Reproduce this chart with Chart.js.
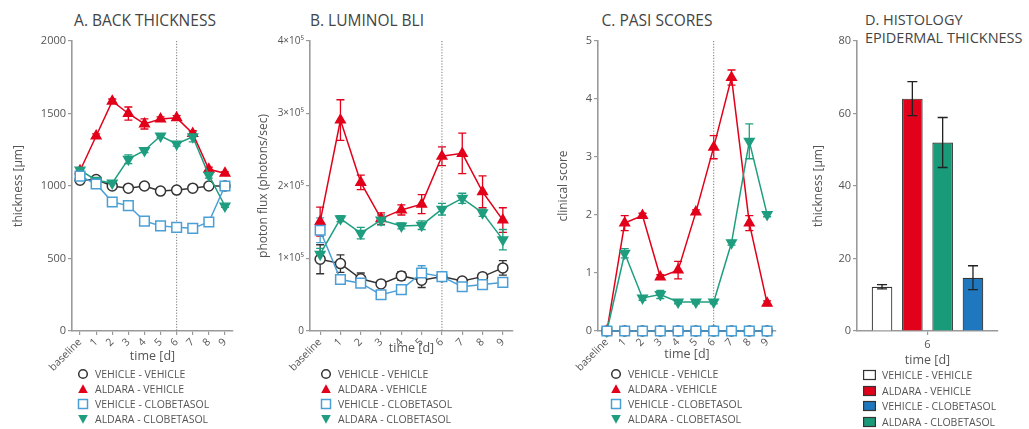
<!DOCTYPE html>
<html>
<head>
<meta charset="utf-8">
<script src="https://cdn.jsdelivr.net/npm/chart.js"></script>
<style>
  body { margin: 0; background: #fff; font-family: 'Open Sans', sans-serif; }
  #page { position: relative; width: 1029px; height: 429px; overflow: hidden; }
  canvas { position: absolute; top: 0; }
  .title { position: absolute; width: 240px; font-size: 15.5px; line-height: 18px; color: #444; text-align: center; white-space: nowrap; }
  .legend { position: absolute; font-size: 10.5px; color: #555; }
  .legend div { height: 15.2px; display: flex; align-items: center; white-space: nowrap; }
  .legend svg { margin-right: 6px; flex: none; }
</style>
</head>
<body>
<div id="page">
  <div class="title" style="left:25px; top:11px;">A. BACK THICKNESS</div>
  <div class="title" style="left:247px; top:11px;">B. LUMINOL BLI</div>
  <div class="title" style="left:537px; top:11px;">C. PASI SCORES</div>
  <div class="title" style="left:865px; top:11px; text-align:left; font-size:14.5px;">D. HISTOLOGY<br>EPIDERMAL THICKNESS</div>

  <canvas id="chartA" width="250" height="385" style="left:0px;"></canvas>
  <canvas id="chartB" width="290" height="385" style="left:240px;"></canvas>
  <canvas id="chartC" width="250" height="385" style="left:540px;"></canvas>
  <canvas id="chartD" width="239" height="385" style="left:790px;"></canvas>

  <div class="legend" id="legendA" style="left:77px; top:366px;"></div>
  <div class="legend" id="legendB" style="left:320px; top:366px;"></div>
  <div class="legend" id="legendC" style="left:610px; top:366px;"></div>
  <div class="legend" id="legendD" style="left:863px; top:367px;"></div>
</div>

<script>
// categorias y grupos
var days = ['baseline', '1', '2', '3', '4', '5', '6', '7', '8', '9'];
var groups = ['VEHICLE - VEHICLE', 'ALDARA - VEHICLE', 'VEHICLE - CLOBETASOL', 'ALDARA - CLOBETASOL'];

// A. back thickness [µm]
var thickVV = [1040, 1045, 1000, 985, 1000, 965, 972, 985, 1000, 1000];
var thickAV = [1105, 1345, 1585, 1500, 1428, 1462, 1470, 1362, 1115, 1088];
var thickVC = [1068, 1014, 890, 865, 758, 725, 715, 708, 752, 1000];
var thickAC = [1110, 1040, 1020, 1185, 1245, 1345, 1290, 1340, 1075, 862];
var thickErrVV = [20, 12, 10, 10, 10, 10, 10, 10, 10, 10];
var thickErrAV = [15, 15, 15, 45, 35, 15, 15, 20, 15, 10];
var thickErrVC = [15, 10, 10, 10, 10, 10, 10, 10, 10, 10];
var thickErrAC = [10, 10, 10, 30, 15, 10, 15, 35, 20, 10];
var thickTicks = ['0', '500', '1000', '1500', '2000'];

// B. luminol BLI, photon flux (photons/sec)
var fluxVV = [99000, 93000, 72000, 65000, 76000, 70000, 75000, 69000, 75000, 87000];
var fluxAV = [151000, 291000, 205000, 155000, 167000, 175000, 241000, 245000, 192000, 153000];
var fluxVC = [139000, 71000, 66000, 50000, 57000, 80000, 75000, 61000, 64000, 67000];
var fluxAC = [106000, 155000, 135000, 153000, 145000, 146000, 168000, 183000, 163000, 126000];
var fluxErrVV = [20000, 12000, 8000, 4000, 6000, 10000, 6000, 4000, 4000, 10000];
var fluxErrAV = [20000, 28000, 10000, 8000, 7000, 13000, 13000, 28000, 22000, 17000];
var fluxErrVC = [17000, 5000, 5000, 5000, 5000, 10000, 5000, 5000, 4000, 4000];
var fluxErrAC = [8000, 4000, 8000, 7000, 4000, 6000, 8000, 7000, 5000, 14000];
var fluxTicks = ['0', '1×10⁵', '2×10⁵', '3×10⁵', '4×10⁵'];

// C. PASI, clinical score
var pasiVV = [0, 0, 0, 0, 0, 0, 0, 0, 0, 0];
var pasiAV = [0, 1.86, 1.99, 0.93, 1.05, 2.05, 3.17, 4.37, 1.86, 0.48];
var pasiVC = [0, 0, 0, 0, 0, 0, 0, 0, 0, 0];
var pasiAC = [0, 1.34, 0.57, 0.63, 0.5, 0.5, 0.5, 1.52, 3.27, 2.01];
var pasiErrAV = [0, 0.13, 0.04, 0.04, 0.15, 0.04, 0.2, 0.13, 0.13, 0.04];
var pasiErrAC = [0, 0.08, 0.04, 0.07, 0.03, 0.03, 0.03, 0.04, 0.3, 0.04];
var pasiErrNone = [0, 0, 0, 0, 0, 0, 0, 0, 0, 0];
var pasiTicks = ['0', '1', '2', '3', '4', '5'];

// D. histologia, dia 6 (orden de groups)
var histoLabels = ['6'];
var histoMean = [12.2, 64.1, 14.7, 52.0];
var histoErr = [0.6, 4.7, 3.3, 6.9];
var histoTicks = ['0', '20', '40', '60', '80'];
var barOrder = [0, 1, 3, 2];

// estilos
var textColor = '#555';
var axisColor = '#9a9a9a';
var lineColors = ['#333333', '#e2001a', '#4a9fd6', '#1f9e7f'];
var fillColors = ['#ffffff', '#e2001a', '#ffffff', '#1f9e7f'];
var barColors = ['#ffffff', '#e2001a', '#1f78bf', '#199a78'];
var pointStyles = ['circle', 'triangle', 'rect', 'triangle'];
var pointRotations = [0, 0, 0, 180];
var pointRadii = [5, 5.5, 6.8, 5.5];
var drawOrder = [4, 3, 1, 2];

Chart.defaults.font.family = "'Open Sans', sans-serif";
Chart.defaults.color = textColor;

// barras de error (dibujadas con la escala y)
var errorBars = {
    id: 'errorBars',
    beforeDatasetsDraw: function(chart, args, opts) {
        if (!opts.front) drawErrors(chart, opts);
    },
    afterDatasetsDraw: function(chart, args, opts) {
        if (opts.front) drawErrors(chart, opts);
    }
};

function drawErrors(chart, opts) {
    var ctx = chart.ctx;
    var y = chart.scales.y;
    var cap = opts.cap || 4;
    chart.data.datasets.forEach(function(ds, i) {
        if (!ds.errors) return;
        var meta = chart.getDatasetMeta(i);
        ctx.save();
        ctx.strokeStyle = opts.color || ds.borderColor;
        ctx.lineWidth = 1.3;
        meta.data.forEach(function(el, j) {
            var e = ds.errors[j];
            if (!e) return;
            var top = y.getPixelForValue(ds.data[j] + e);
            var bot = y.getPixelForValue(ds.data[j] - e);
            ctx.beginPath();
            ctx.moveTo(el.x, top); ctx.lineTo(el.x, bot);
            ctx.moveTo(el.x - cap, top); ctx.lineTo(el.x + cap, top);
            ctx.moveTo(el.x - cap, bot); ctx.lineTo(el.x + cap, bot);
            ctx.stroke();
        });
        ctx.restore();
    });
}

// linea punteada del dia 6
var dayLine = {
    id: 'dayLine',
    beforeDatasetsDraw: function(chart, args, opts) {
        if (opts.at === undefined) return;
        var ctx = chart.ctx;
        var x = chart.scales.x.getPixelForValue(opts.at);
        ctx.save();
        ctx.strokeStyle = '#777';
        ctx.lineWidth = 1;
        ctx.setLineDash([1.2, 1.6]);
        ctx.beginPath();
        ctx.moveTo(x, chart.chartArea.top);
        ctx.lineTo(x, chart.chartArea.bottom);
        ctx.stroke();
        ctx.restore();
    }
};

// el eje x ocupa hasta y=380; el titulo se sube con padding.bottom
function axisOptions(title, tickLabels, yMax, yStep, yWidth, titleGap, yTickSize) {
    return {
        x: {
            offset: true,
            grid: { drawOnChartArea: false, color: axisColor, tickLength: 4, lineWidth: 1.2 },
            border: { color: axisColor, width: 1.6 },
            ticks: { minRotation: 45, maxRotation: 45, autoSkip: false, padding: 1, font: { size: 10.5 }, color: textColor },
            title: { display: true, text: 'time [d]', font: { size: 12.5 }, color: textColor, padding: { top: 0, bottom: titleGap } },
            afterFit: function(s) { s.height = 49; }
        },
        y: {
            min: 0,
            max: yMax,
            grid: { drawOnChartArea: false, color: axisColor, tickLength: 4, lineWidth: 1.2 },
            border: { color: axisColor, width: 1.6 },
            ticks: {
                stepSize: yStep, padding: 2, font: { size: yTickSize || 11 }, color: textColor,
                callback: function(v, i) { return tickLabels[i]; }
            },
            title: { display: true, text: title, font: { size: 12 }, color: textColor, padding: 0 },
            afterFit: function(s) { s.width = yWidth; }
        }
    };
}

function lineChart(id, values, errors, yTitle, tickLabels, yMax, yStep, pad, yWidth, titleGap, yTickSize) {
    var sets = groups.map(function(name, g) {
        return {
            label: name,
            data: values[g],
            errors: errors[g],
            borderColor: lineColors[g],
            backgroundColor: fillColors[g],
            pointBackgroundColor: fillColors[g],
            pointBorderColor: lineColors[g],
            pointStyle: pointStyles[g],
            pointRotation: pointRotations[g],
            pointRadius: pointRadii[g],
            pointBorderWidth: 1.5,
            borderWidth: 1.5,
            order: drawOrder[g],
            clip: false
        };
    });
    return new Chart(document.getElementById(id), {
        type: 'line',
        data: { labels: days, datasets: sets },
        options: {
            responsive: false,
            animation: false,
            layout: { padding: pad },
            plugins: {
                legend: { display: false },
                tooltip: { enabled: false },
                dayLine: { at: 6 },
                errorBars: { front: false, cap: 4 }
            },
            scales: axisOptions(yTitle, tickLabels, yMax, yStep, yWidth, titleGap, yTickSize)
        },
        plugins: [errorBars, dayLine]
    });
}

lineChart('chartA',
    [thickVV, thickAV, thickVC, thickAC],
    [thickErrVV, thickErrAV, thickErrVC, thickErrAC],
    'thickness [µm]', thickTicks, 2000, 500,
    { left: 11, top: 41, right: 17, bottom: 5 }, 61, 16.5);

lineChart('chartB',
    [fluxVV, fluxAV, fluxVC, fluxAC],
    [fluxErrVV, fluxErrAV, fluxErrVC, fluxErrAC],
    'photon flux (photons/sec)', fluxTicks, 400000, 100000,
    { left: 16, top: 41, right: 17, bottom: 5 }, 54, 24.5, 10);

lineChart('chartC',
    [pasiVV, pasiAV, pasiVC, pasiAC],
    [pasiErrNone, pasiErrAV, pasiErrNone, pasiErrAC],
    'clinical score', pasiTicks, 5, 1,
    { left: 16, top: 41, right: 14, bottom: 5 }, 42, 18.5);

// D. grafico de barras
var barSets = barOrder.map(function(g) {
    return {
        label: groups[g],
        data: [histoMean[g]],
        errors: [histoErr[g]],
        backgroundColor: barColors[g],
        borderColor: '#333',
        borderWidth: 1.2,
        categoryPercentage: 0.86,
        barPercentage: 0.68
    };
});
var optsD = axisOptions('thickness [µm]', histoTicks, 80, 20, 46, 12.5);
optsD.x.offset = true;
optsD.x.grid.offset = false;
optsD.x.ticks.minRotation = 0;
optsD.x.ticks.maxRotation = 0;
optsD.x.ticks.padding = 3;
optsD.x.ticks.font = { size: 11 };
new Chart(document.getElementById('chartD'), {
    type: 'bar',
    data: { labels: histoLabels, datasets: barSets },
    options: {
        responsive: false,
        animation: false,
        layout: { padding: { left: 21, top: 41, right: 31, bottom: 5 } },
        plugins: {
            legend: { display: false },
            tooltip: { enabled: false },
            errorBars: { front: true, cap: 5, color: '#222' }
        },
        scales: optsD
    },
    plugins: [errorBars]
});

// leyendas en HTML
function lineMarker(g) {
    var s = '<svg width="12" height="12" viewBox="0 0 12 12">';
    if (g === 0) s += '<circle cx="6" cy="6" r="4.3" fill="#fff" stroke="' + lineColors[g] + '" stroke-width="1.5"/>';
    if (g === 1) s += '<polygon points="6,1.2 10.8,10 1.2,10" fill="' + lineColors[g] + '"/>';
    if (g === 2) s += '<rect x="1.5" y="1.5" width="9" height="9" fill="#fff" stroke="' + lineColors[g] + '" stroke-width="1.5"/>';
    if (g === 3) s += '<polygon points="1.2,2 10.8,2 6,10.8" fill="' + lineColors[g] + '"/>';
    return s + '</svg>';
}

function barMarker(g) {
    return '<svg width="13" height="12" viewBox="0 0 13 12"><rect x="0.6" y="1.5" width="11.8" height="9" fill="' +
        barColors[g] + '" stroke="#333" stroke-width="1.2"/></svg>';
}

['legendA', 'legendB', 'legendC'].forEach(function(id) {
    document.getElementById(id).innerHTML = groups.map(function(name, g) {
        return '<div>' + lineMarker(g) + name + '</div>';
    }).join('');
});
document.getElementById('legendD').innerHTML = groups.map(function(name, g) {
    return '<div style="height:15.7px">' + barMarker(g) + name + '</div>';
}).join('');
</script>
</body>
</html>
